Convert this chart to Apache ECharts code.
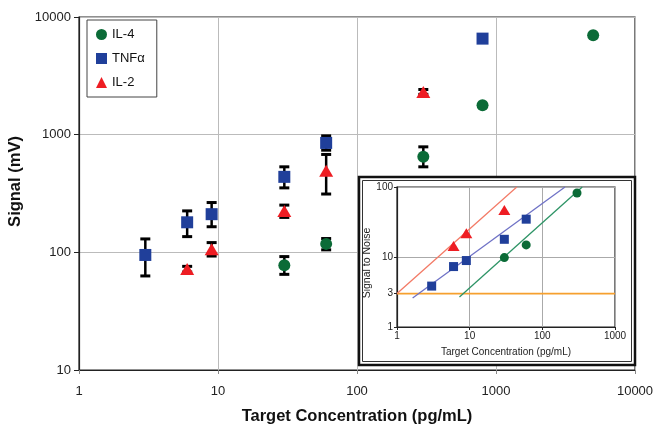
<!DOCTYPE html>
<html><head><meta charset="utf-8">
<script src="https://cdn.jsdelivr.net/npm/echarts@6/dist/echarts.min.js"></script>
<style>html,body{margin:0;padding:0;background:#fff}#c{width:653px;height:425px}</style>
</head><body><div id="c"></div>
<script>
// ---- main chart data: [concentration pg/mL, signal mV]
const il4Main = [[30, 77.6], [60, 118], [300, 648], [800, 1780], [5000, 7000]];
const tnfMain = [[3, 95], [6, 180], [9, 211], [30, 438], [60, 851], [800, 6550]];
const il2Main = [[6, 72], [9, 106], [30, 225], [60, 493], [300, 2310]];
// error bars: [concentration, low, high]
const il4Err = [[30, 65, 92], [60, 105, 131], [300, 533, 788]];
const tnfErr = [[3, 63, 130], [6, 136, 225], [9, 165, 265], [30, 353, 533], [60, 738, 977]];
const il2Err = [[6, 68, 76], [9, 93, 121], [30, 198, 252], [60, 313, 679], [300, 2200, 2420]];
// ---- inset data: signal to noise
const il4SN = [[30, 9.8], [60, 14.9], [300, 82]];
const tnfSN = [[3, 3.84], [6, 7.3], [9, 8.9], [30, 17.9], [60, 34.7]];
const il2SN = [[6, 14.4], [9, 21.9], [30, 47]];
const il4Fit = [[7.24, 2.69], [354, 100]];
const tnfFit = [[1.64, 2.6], [205, 100]];
const il2Fit = [[1, 3], [44.5, 100]];
const threshold = [[1, 3], [1000, 3]];
const insetYLabels = [1, 3, 10, 100];

const FONT = 'Liberation Sans, Arial, sans-serif';
const C_IL4 = '#0b6b37', C_TNF = '#203f9a', C_IL2 = '#ee1d23';
const plain = function (v) { return String(Math.round(v)); };

function errSeries(data, name) {
  return {
    type: 'custom', name: name, xAxisIndex: 0, yAxisIndex: 0, z: 2,
    data: data, encode: {x: 0, y: [1, 2]},
    renderItem: function (params, api) {
      const lo = api.coord([api.value(0), api.value(1)]);
      const hi = api.coord([api.value(0), api.value(2)]);
      const w = 5;
      const st = {stroke: '#000', lineWidth: 2.5};
      return {type: 'group', children: [
        {type: 'line', shape: {x1: lo[0], y1: lo[1], x2: hi[0], y2: hi[1]}, style: st},
        {type: 'line', shape: {x1: lo[0] - w, y1: lo[1], x2: lo[0] + w, y2: lo[1]}, style: {stroke: '#000', lineWidth: 3}},
        {type: 'line', shape: {x1: hi[0] - w, y1: hi[1], x2: hi[0] + w, y2: hi[1]}, style: {stroke: '#000', lineWidth: 3}}
      ]};
    }
  };
}

const chart = echarts.init(document.getElementById('c'), null, {renderer: 'canvas'});
const option = {
  animation: false,
  backgroundColor: '#fff',
  textStyle: {fontFamily: FONT},
  grid: [
    {left: 79, top: 17, width: 556, height: 353, show: true, borderColor: '#222', borderWidth: 1.2,
     backgroundColor: 'transparent', containLabel: false, outerBoundsMode: 'none'},
    {left: 397, top: 187, width: 218, height: 140, show: true, borderColor: '#222', borderWidth: 1.2, z: 20,
     containLabel: false, outerBoundsMode: 'none'}
  ],
  legend: {
    orient: 'vertical', left: 87, top: 20, z: 5,
    borderColor: '#444', borderWidth: 1, padding: [8, 12, 8, 9], itemGap: 11,
    itemWidth: 11, itemHeight: 11,
    textStyle: {fontSize: 13, fontFamily: FONT, color: '#111'},
    data: [
      {name: 'IL-4', icon: 'circle'},
      {name: 'TNFα', icon: 'rect'},
      {name: 'IL-2', icon: 'triangle'}
    ]
  },
  xAxis: [
    {type: 'log', logBase: 10, min: 1, max: 10000, gridIndex: 0,
     name: 'Target Concentration (pg/mL)', nameLocation: 'middle', nameGap: 38,
     nameTextStyle: {fontSize: 16.5, fontWeight: 'bold', color: '#111', fontFamily: FONT},
     axisLine: {lineStyle: {color: '#222', width: 1.2}},
     axisTick: {show: true, inside: false, length: 4, lineStyle: {color: '#888'}},
     axisLabel: {fontSize: 13, color: '#222', margin: 15, fontFamily: FONT, formatter: plain},
     splitLine: {show: true, lineStyle: {color: '#bbb', width: 1}},
     minorTick: {show: false}},
    {type: 'log', logBase: 10, min: 1, max: 1000, gridIndex: 1, z: 20,
     name: 'Target Concentration (pg/mL)', nameLocation: 'middle', nameGap: 20,
     nameTextStyle: {fontSize: 10, color: '#222', fontFamily: FONT},
     axisLine: {lineStyle: {color: '#222', width: 1.2}},
     axisTick: {show: true, inside: false, length: 3, lineStyle: {color: '#222'}},
     axisLabel: {fontSize: 10, color: '#222', margin: 4, fontFamily: FONT, formatter: plain},
     splitLine: {show: true, lineStyle: {color: '#aaa', width: 1}}}
  ],
  yAxis: [
    {type: 'log', logBase: 10, min: 10, max: 10000, gridIndex: 0,
     name: 'Signal (mV)', nameLocation: 'middle', nameGap: 52,
     nameTextStyle: {fontSize: 16.5, fontWeight: 'bold', color: '#111', fontFamily: FONT, padding: [0, 0, 0, 24]},
     axisLine: {lineStyle: {color: '#222', width: 1.2}},
     axisTick: {show: true, inside: false, length: 5, lineStyle: {color: '#222'}},
     axisLabel: {fontSize: 13, color: '#222', margin: 8, fontFamily: FONT, formatter: plain},
     splitLine: {show: true, lineStyle: {color: '#bbb', width: 1}}},
    {type: 'log', logBase: 10, min: 1, max: 100, gridIndex: 1, z: 20,
     name: 'Signal to Noise', nameLocation: 'middle', nameGap: 21,
     nameTextStyle: {fontSize: 10.5, color: '#222', fontFamily: FONT, padding: [0, 12, 0, 0]},
     axisLine: {lineStyle: {color: '#222', width: 1.2}},
     axisTick: {show: true, inside: false, length: 3, lineStyle: {color: '#222'}, customValues: insetYLabels},
     axisLabel: {fontSize: 10, color: '#222', margin: 4, fontFamily: FONT, customValues: insetYLabels, formatter: plain},
     splitLine: {show: true, lineStyle: {color: '#aaa', width: 1}}}
  ],
  graphic: {elements: [
    {type: 'rect', z: 10, shape: {x: 359, y: 177, width: 276, height: 188},
     style: {fill: '#fff', stroke: '#111', lineWidth: 2.5}},
    {type: 'rect', z: 11, shape: {x: 362.5, y: 180.5, width: 269, height: 181},
     style: {fill: 'none', stroke: '#333', lineWidth: 1}}
  ]},
  series: [
    errSeries(il4Err, 'e1'), errSeries(tnfErr, 'e2'), errSeries(il2Err, 'e3'),
    {type: 'scatter', name: 'IL-4', data: il4Main, symbol: 'circle', symbolSize: 12, z: 3,
     itemStyle: {color: C_IL4, opacity: 1}},
    {type: 'scatter', name: 'TNFα', data: tnfMain, symbol: 'rect', symbolSize: 12, z: 3,
     itemStyle: {color: C_TNF, opacity: 1}},
    {type: 'scatter', name: 'IL-2', data: il2Main, symbol: 'triangle', symbolSize: [14, 12], z: 3,
     itemStyle: {color: C_IL2, opacity: 1}},
    // inset
    {type: 'line', name: 'thr', xAxisIndex: 1, yAxisIndex: 1, data: threshold, symbol: 'none', z: 25,
     lineStyle: {color: '#f6a02e', width: 1.6}},
    {type: 'line', name: 'f1', xAxisIndex: 1, yAxisIndex: 1, data: il2Fit, symbol: 'none', z: 25,
     lineStyle: {color: '#f37a66', width: 1.3}},
    {type: 'line', name: 'f2', xAxisIndex: 1, yAxisIndex: 1, data: tnfFit, symbol: 'none', z: 25,
     lineStyle: {color: '#6f72c6', width: 1.3}},
    {type: 'line', name: 'f3', xAxisIndex: 1, yAxisIndex: 1, data: il4Fit, symbol: 'none', z: 25,
     lineStyle: {color: '#2e9466', width: 1.3}},
    {type: 'scatter', name: 's1', xAxisIndex: 1, yAxisIndex: 1, data: il4SN, symbol: 'circle', symbolSize: 9, z: 30,
     itemStyle: {color: C_IL4, opacity: 1}},
    {type: 'scatter', name: 's2', xAxisIndex: 1, yAxisIndex: 1, data: tnfSN, symbol: 'rect', symbolSize: 9, z: 30,
     itemStyle: {color: C_TNF, opacity: 1}},
    {type: 'scatter', name: 's3', xAxisIndex: 1, yAxisIndex: 1, data: il2SN, symbol: 'triangle', symbolSize: [12, 10], z: 30,
     itemStyle: {color: C_IL2, opacity: 1}}
  ]
};
chart.setOption(option);
</script></body></html>
